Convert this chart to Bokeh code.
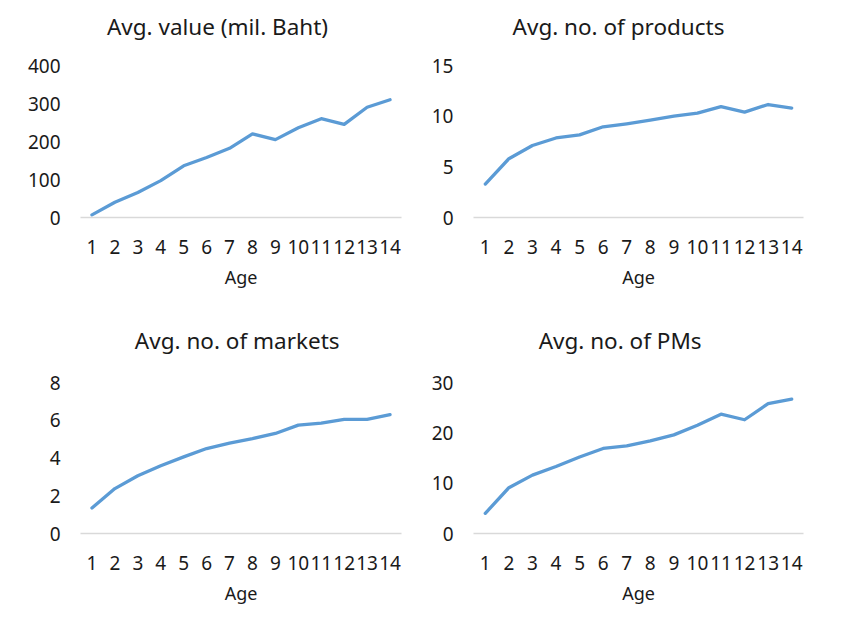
from bokeh.plotting import figure
from bokeh.models import FactorRange, Range1d, FixedTicker, Label
from bokeh.layouts import gridplot
from bokeh.embed import file_html
from bokeh.resources import INLINE

ages = ["1", "2", "3", "4", "5", "6", "7", "8", "9", "10", "11", "12", "13", "14"]

avg_value = [7, 40, 66, 97, 136, 158, 182, 220, 205, 236, 260, 245, 290, 310]
avg_products = [3.3, 5.8, 7.1, 7.85, 8.15, 8.95, 9.25, 9.6, 10.0, 10.3, 10.95, 10.4, 11.15, 10.8]
avg_markets = [1.35, 2.38, 3.06, 3.59, 4.06, 4.5, 4.79, 5.03, 5.3, 5.74, 5.85, 6.05, 6.05, 6.3]
avg_pms = [4.0, 9.1, 11.6, 13.3, 15.2, 16.9, 17.4, 18.4, 19.6, 21.5, 23.7, 22.6, 25.8, 26.7]

titles = ["Avg. value (mil. Baht)", "Avg. no. of products", "Avg. no. of markets", "Avg. no. of PMs"]
y_ticks = [[0, 100, 200, 300, 400], [0, 5, 10, 15], [0, 2, 4, 6, 8], [0, 10, 20, 30]]
x_label = "Age"

FONT = "Noto Sans"
TXT = "#1a1a1a"
LINE = "#5B9BD5"


def panel(title, values, ticks, w, h, bl, br, bb, plot_h, title_dx, title_dy):
    # frame spans from 2px below the top edge down to the x axis;
    # the value axis top (last tick) sits plot_h pixels above the x axis
    bt = 2
    frame_h = h - bt - bb
    top = ticks[-1]
    y_end = top * frame_h / plot_h
    p = figure(width=w, height=h, x_range=FactorRange(*ages),
               y_range=Range1d(0, y_end), output_backend="svg",
               toolbar_location=None, min_border_left=bl, min_border_right=br,
               min_border_top=bt, min_border_bottom=bb)
    p.line(x=ages, y=values, line_color=LINE, line_width=3.3,
           line_join="round", line_cap="round")
    p.add_layout(Label(x=title_dx, y=top * title_dy / plot_h,
                       x_units="screen", y_units="data",
                       text=title, text_font=FONT, text_font_size="22.5px",
                       text_color=TXT, text_align="center",
                       text_baseline="middle"))
    p.outline_line_color = None
    p.xgrid.grid_line_color = None
    p.ygrid.grid_line_color = None
    p.background_fill_color = "white"
    p.border_fill_color = "white"

    xa = p.xaxis[0]
    xa.axis_line_color = "#D9D9D9"
    xa.axis_line_width = 1.5
    xa.major_tick_line_color = None
    xa.minor_tick_line_color = None
    xa.major_tick_out = 0
    xa.major_label_standoff = 22
    xa.major_label_text_font = FONT
    xa.major_label_text_font_size = "19px"
    xa.major_label_text_color = TXT
    xa.axis_label = x_label
    xa.axis_label_text_font = FONT
    xa.axis_label_text_font_size = "18px"
    xa.axis_label_text_font_style = "normal"
    xa.axis_label_text_color = TXT
    xa.axis_label_standoff = 8

    ya = p.yaxis[0]
    ya.ticker = FixedTicker(ticks=ticks)
    ya.axis_line_color = None
    ya.major_tick_line_color = None
    ya.minor_tick_line_color = None
    ya.major_tick_out = 0
    ya.major_label_standoff = 20
    ya.major_label_text_font = FONT
    ya.major_label_text_font_size = "19px"
    ya.major_label_text_color = TXT
    return p


p1 = panel(titles[0], avg_value, y_ticks[0], 428, 316, 80, 27, 99, 152, 137, 191.5)
p2 = panel(titles[1], avg_products, y_ticks[1], 420, 316, 44, 45, 99, 152, 145, 191.5)
p3 = panel(titles[2], avg_markets, y_ticks[2], 428, 293, 59, 27, 76, 151, 156.7, 193.5)
p4 = panel(titles[3], avg_pms, y_ticks[3], 420, 293, 44, 45, 76, 151, 146.6, 193.5)

grid = gridplot([[p1, p2], [p3, p4]], toolbar_location=None)
open("out.html", "w").write(file_html(grid, INLINE))
